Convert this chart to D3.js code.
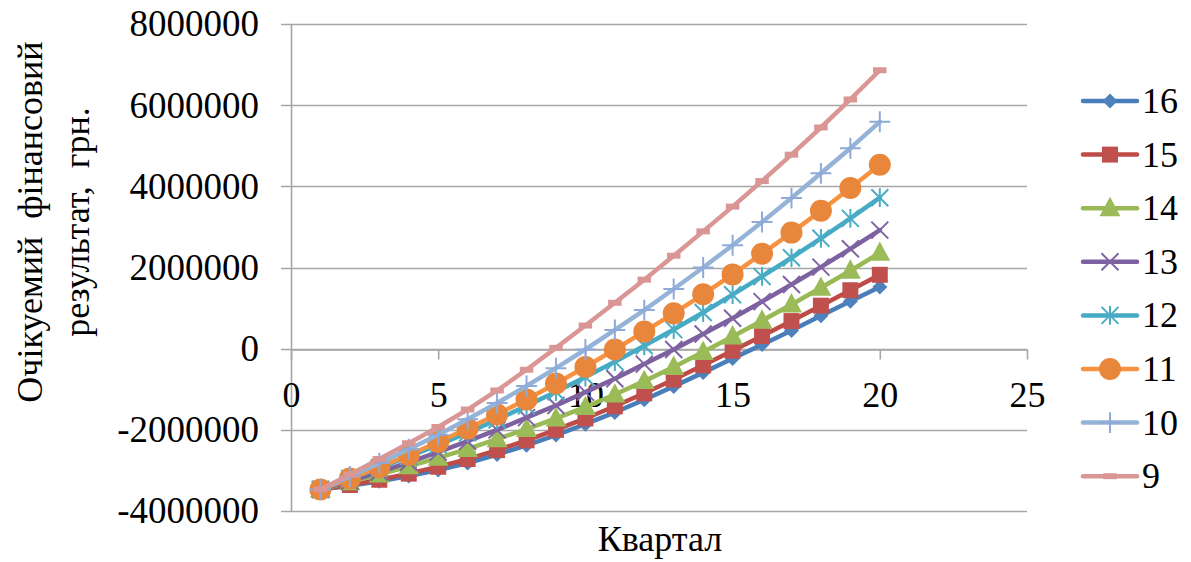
<!DOCTYPE html>
<html><head><meta charset="utf-8">
<script src="https://cdn.jsdelivr.net/npm/d3@7/dist/d3.min.js"></script>
<style>body{margin:0;background:#fff}svg{display:block}</style>
</head><body>
<svg id="c" width="1191" height="562"></svg>
<script>
// ---- data ----
const quarters = [1,2,3,4,5,6,7,8,9,10,11,12,13,14,15,16,17,18,19,20];
const seriesNames = ["16","15","14","13","12","11","10","9"];
const s16 = [-3470000,-3380000,-3270000,-3140000,-2990000,-2820000,-2610000,-2380000,-2130000,-1860000,-1570000,-1260000,-930000,-590000,-240000,100000,450000,810000,1170000,1520000];
const s15 = [-3470000,-3360000,-3230000,-3080000,-2910000,-2720000,-2500000,-2260000,-2000000,-1720000,-1420000,-1100000,-760000,-410000,-50000,310000,680000,1060000,1440000,1820000];
const s14 = [-3470000,-3290000,-3100000,-2900000,-2690000,-2470000,-2230000,-1980000,-1720000,-1440000,-1130000,-800000,-450000,-80000,300000,690000,1090000,1500000,1920000,2360000];
const s13 = [-3470000,-3260000,-3040000,-2800000,-2550000,-2280000,-2000000,-1700000,-1400000,-1070000,-740000,-380000,-20000,360000,750000,1160000,1580000,2010000,2460000,2920000];
const s12 = [-3470000,-3200000,-2940000,-2660000,-2370000,-2070000,-1750000,-1410000,-1060000,-700000,-320000,70000,470000,890000,1330000,1780000,2240000,2720000,3210000,3720000];
const s11 = [-3470000,-3200000,-2920000,-2620000,-2300000,-1970000,-1620000,-1250000,-860000,-450000,-20000,420000,870000,1340000,1830000,2340000,2860000,3400000,3960000,4530000];
const s10 = [-3470000,-3150000,-2820000,-2480000,-2120000,-1740000,-1340000,-920000,-480000,-20000,460000,950000,1470000,2000000,2550000,3120000,3710000,4320000,4940000,5590000];
const s9  = [-3470000,-3100000,-2720000,-2330000,-1930000,-1500000,-1030000,-520000,20000,570000,1130000,1700000,2290000,2890000,3500000,4130000,4780000,5450000,6140000,6860000];
const xTickValues = [0,5,10,15,20,25];
const yTickValues = [-4000000,-2000000,0,2000000,4000000,6000000,8000000];
const xTitle = "Квартал";
const yTitle1 = "Очікуемий  фінансовий";
const yTitle2 = "результат,  грн.";

// ---- styles ----
const seriesData = [s16,s15,s14,s13,s12,s11,s10,s9];
const styles = [
  {line:"#4A7EBB", fill:"#4F81BD", marker:"diamond"},
  {line:"#BE4B48", fill:"#C0504D", marker:"square"},
  {line:"#98B954", fill:"#9BBB59", marker:"triangle"},
  {line:"#7D60A0", fill:"#8064A2", marker:"x"},
  {line:"#46AAC5", fill:"#4BACC6", marker:"star"},
  {line:"#F69240", fill:"#E8873C", marker:"circle"},
  {line:"#95B3D7", fill:"#8EAADB", marker:"plus"},
  {line:"#D99694", fill:"#D99694", marker:"dash"}
];
const FONT = "'Liberation Serif','Times New Roman',serif";

const svg = d3.select("#c");
const x = d3.scaleLinear().domain([0,25]).range([291,1027]);
const y = d3.scaleLinear().domain([-4000000,8000000]).range([511,24]);
const gridColor = "#a6a6a6";

// gridlines (extend left as ticks)
svg.append("g").selectAll("line").data(yTickValues).join("line")
  .attr("x1", 281).attr("x2", x(25))
  .attr("y1", d=>Math.round(y(d))+0.5).attr("y2", d=>Math.round(y(d))+0.5)
  .attr("stroke", gridColor).attr("stroke-width", 1.6);

// y axis
const yAxis = d3.axisLeft(y).tickValues(yTickValues).tickSize(0).tickPadding(0).tickFormat(d => String(d));
const gy = svg.append("g").attr("transform","translate(291,0)").call(yAxis);
gy.select(".domain").remove();
gy.selectAll("text").attr("x", -32).attr("font-family", FONT).attr("font-size", 37).attr("fill","#000");
svg.append("line").attr("x1",291.5).attr("x2",291.5).attr("y1",y(8000000)).attr("y2",y(-4000000))
  .attr("stroke",gridColor).attr("stroke-width",1.6);

// x axis at y=0
const xAxis = d3.axisBottom(x).tickValues(xTickValues).tickSize(10).tickSizeOuter(0).tickPadding(22);
const gx = svg.append("g").attr("transform",`translate(0,${Math.round(y(0))+0.5})`).call(xAxis);
gx.select(".domain").attr("stroke",gridColor).attr("stroke-width",1.6);
gx.selectAll(".tick line").attr("stroke",gridColor).attr("stroke-width",1.6);
gx.selectAll("text").attr("font-family", FONT).attr("font-size", 36).attr("fill","#000");

// marker path generator
function markerPath(type, s) {
  const p = d3.path();
  switch(type){
    case "diamond": p.moveTo(0,-s*0.5);p.lineTo(s*0.5,0);p.lineTo(0,s*0.5);p.lineTo(-s*0.5,0);p.closePath();break;
    case "square": p.rect(-s*0.47,-s*0.47,s*0.94,s*0.94);break;
    case "triangle": p.moveTo(0,-s*0.6);p.lineTo(s*0.55,s*0.42);p.lineTo(-s*0.55,s*0.42);p.closePath();break;
    case "circle": p.arc(0,0,s*0.55,0,Math.PI*2);break;
    case "x": p.moveTo(-s*0.5,-s*0.5);p.lineTo(s*0.5,s*0.5);p.moveTo(s*0.5,-s*0.5);p.lineTo(-s*0.5,s*0.5);break;
    case "star": p.moveTo(-s*0.5,-s*0.5);p.lineTo(s*0.5,s*0.5);p.moveTo(s*0.5,-s*0.5);p.lineTo(-s*0.5,s*0.5);p.moveTo(0,-s*0.55);p.lineTo(0,s*0.55);break;
    case "plus": p.moveTo(-s*0.55,0);p.lineTo(s*0.55,0);p.moveTo(0,-s*0.55);p.lineTo(0,s*0.55);break;
    case "dash": p.rect(-s*0.45,-s*0.2,s*0.9,s*0.4);break;
  }
  return p.toString();
}
const filled = {diamond:true,square:true,triangle:true,circle:true,dash:true};
function drawMarker(g, st, cx, cy, s) {
  const m = g.append("path").attr("d", markerPath(st.marker, s)).attr("transform",`translate(${cx},${cy})`);
  if (filled[st.marker]) m.attr("fill", st.fill).attr("stroke","none");
  else m.attr("fill","none").attr("stroke", st.fill).attr("stroke-width",2);
}
const mSize = {diamond:15,square:17,triangle:19,circle:20,x:17,star:17,plus:19,dash:15};

const line = d3.line().x((d,i)=>x(quarters[i])).y(d=>y(d));
seriesData.forEach((vals, k) => {
  const st = styles[k];
  const g = svg.append("g");
  g.append("path").datum(vals).attr("d", line).attr("fill","none")
    .attr("stroke", st.line).attr("stroke-width", 4.5).attr("stroke-linejoin","round").attr("stroke-linecap","round");
  vals.forEach((v,i) => drawMarker(g, st, x(quarters[i]), y(v), mSize[st.marker]));
});

// legend
const lg = svg.append("g");
seriesNames.forEach((name, k) => {
  const st = styles[k];
  const cy = 101 + k*53.6;
  lg.append("line").attr("x1",1083).attr("x2",1137).attr("y1",cy).attr("y2",cy)
    .attr("stroke",st.line).attr("stroke-width",4.5).attr("stroke-linecap","round");
  drawMarker(lg, st, 1110, cy, mSize[st.marker]);
  lg.append("text").attr("x",1142).attr("y",cy+12).text(name)
    .attr("font-family",FONT).attr("font-size",36).attr("fill","#000");
});

// axis titles
svg.append("text").attr("x", 660).attr("y", 551).attr("text-anchor","middle")
  .attr("font-family",FONT).attr("font-size",36).text(xTitle);
const yt = svg.append("g").attr("transform","translate(0,222) rotate(-90)");
yt.append("text").attr("x",0).attr("y",42).attr("text-anchor","middle").attr("xml:space","preserve")
  .style("white-space","pre").attr("font-family",FONT).attr("font-size",36).text(yTitle1);
yt.append("text").attr("x",0).attr("y",89).attr("text-anchor","middle").attr("xml:space","preserve")
  .style("white-space","pre").attr("font-family",FONT).attr("font-size",36).text(yTitle2);
</script>
</body></html>
